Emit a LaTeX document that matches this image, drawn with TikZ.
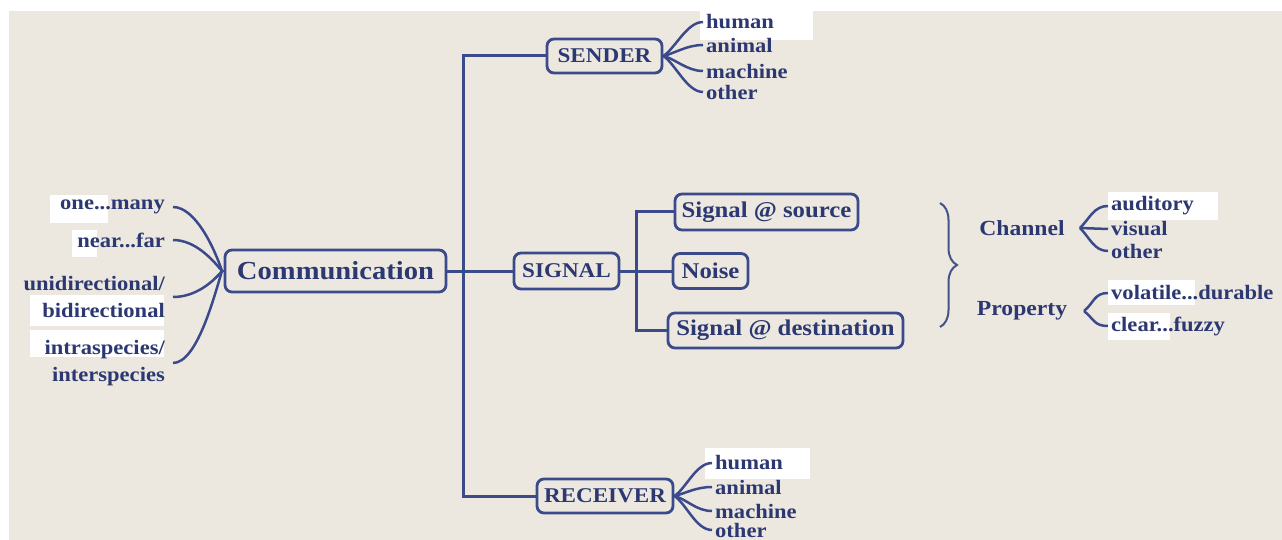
\documentclass[tikz,border=0pt]{standalone}
\usepackage{fontspec}
\setmainfont{Liberation Serif}[FakeStretch=1.1]
\usetikzlibrary{decorations.pathreplacing}
\definecolor{paper}{HTML}{ECE8E0}
\definecolor{ink}{HTML}{3A4A8A}
\definecolor{txt}{HTML}{2C3872}

\begin{document}
\begin{tikzpicture}[x=1pt,y=-1pt,
  box/.style={draw=ink, line width=2.8pt, rounded corners=7pt, fill=paper,
    text=txt, inner sep=0pt, font=\bfseries\fontsize{22.5}{26}\selectfont},
  capsbox/.style={box, font=\bfseries\fontsize{21}{26}\selectfont},
  leaf/.style={text=txt, inner sep=2pt, font=\bfseries\fontsize{20.5}{27.5}\selectfont},
  rleaf/.style={leaf, anchor=west, inner xsep=3pt},
  lleaf/.style={leaf, anchor=east, align=right, inner xsep=8pt},
  link/.style={draw=ink, line width=3pt},
  fan/.style={draw=ink, line width=2.5pt},
  patch/.style={fill=white}
]
% page and paper
\useasboundingbox (0,0) rectangle (1282,540);
\fill[white] (0,0) rectangle (1282,540);
\fill[paper] (9,11) rectangle (1282,540);

% white highlight patches behind some labels
\fill[patch] (700,11) rectangle (813,40);
\fill[patch] (705,448) rectangle (810,479);
\fill[patch] (50,195) rectangle (108,223);
\fill[patch] (72,230) rectangle (97,257);
\fill[patch] (30,295) rectangle (164,326);
\fill[patch] (30,330) rectangle (164,357);
\fill[patch] (1108,192) rectangle (1218,220);
\fill[patch] (1108,280) rectangle (1195,305);
\fill[patch] (1108,313) rectangle (1170,340);

% main boxes
\node[box, minimum width=221, minimum height=42,
  font=\bfseries\fontsize{26}{30}\selectfont] (comm) at (335.5,271) {Communication};
\node[capsbox, minimum width=115, minimum height=34] (sender) at (604.5,56) {SENDER};
\node[capsbox, minimum width=105, minimum height=36] (signal) at (566.5,271) {SIGNAL};
\node[capsbox, minimum width=136, minimum height=34] (receiver) at (605,496) {RECEIVER};
\node[box, minimum width=183, minimum height=36] (src) at (766.5,212) {Signal @ source};
\node[box, minimum width=75, minimum height=35] (noise) at (710.5,271) {Noise};
\node[box, minimum width=235, minimum height=35] (dest) at (785.5,330.5) {Signal @ destination};

% tree connectors
\coordinate (hub) at (463,271);
\coordinate (shub) at (636,271);
\draw[link] (comm.east) -- (hub) -- (signal.west);
\draw[link] (sender.west) -| (hub) |- (receiver.west);
\draw[link] (signal.east) -- (shub) -- (noise.west);
\draw[link] (src.west) -| (shub) |- (dest.west);

% sender kinds
\node[rleaf] (s1) at (703,22) {human};
\node[rleaf] (s2) at (703,45) {animal};
\node[rleaf] (s3) at (703,71) {machine};
\node[rleaf] (s4) at (703,92) {other};
\draw[fan] (sender.east) .. controls +(12,-8) and +(-16,0) .. (s1.west);
\draw[fan] (sender.east) .. controls +(12,-3) and +(-16,0) .. (s2.west);
\draw[fan] (sender.east) .. controls +(12,3) and +(-16,0) .. (s3.west);
\draw[fan] (sender.east) .. controls +(12,8) and +(-16,0) .. (s4.west);

% receiver kinds
\node[rleaf] (r1) at (712,463) {human};
\node[rleaf] (r2) at (712,487) {animal};
\node[rleaf] (r3) at (712,511) {machine};
\node[rleaf] (r4) at (712,530) {other};
\draw[fan] (receiver.east) .. controls +(12,-8) and +(-16,0) .. (r1.west);
\draw[fan] (receiver.east) .. controls +(12,-3) and +(-16,0) .. (r2.west);
\draw[fan] (receiver.east) .. controls +(12,3) and +(-16,0) .. (r3.west);
\draw[fan] (receiver.east) .. controls +(12,8) and +(-16,0) .. (r4.west);

% dimensions of communication
\coordinate (apex) at (222,271);
\node[lleaf] (d1) at (173,207) {one...many};
\node[lleaf] (d2) at (173,240) {near...far};
\node[lleaf] (d3) at (173,297) {unidirectional/\\bidirectional};
\node[lleaf] (d4) at (173,363) {intraspecies/\\interspecies};
\draw[fan] (d1.east) .. controls +(22,0) and +(-8,-24) .. (apex);
\draw[fan] (d2.east) .. controls +(22,0) and +(-10,-12) .. (apex);
\draw[fan] (d3.east) .. controls +(22,0) and +(-10,12) .. (apex);
\draw[fan] (d4.east) .. controls +(24,0) and +(-8,26) .. (apex);
\draw[fan] (apex) -- (comm.west);

% signal characteristics
\coordinate (bt) at (940,203);
\coordinate (bb) at (940,327);
\draw[draw=ink!85!gray, line width=2pt, decorate,
  decoration={brace, amplitude=17pt}] (bt) -- (bb);

\node[leaf, font=\bfseries\fontsize{21.5}{26}\selectfont] (chan) at (1022,228) {Channel};
\node[leaf, font=\bfseries\fontsize{21.5}{26}\selectfont] (prop) at (1022,311) {Property};
\coordinate (ca) at (1080,228);
\coordinate (pa) at (1084,311);
\node[rleaf] (c1) at (1108,206) {auditory};
\node[rleaf] (c2) at (1108,229) {visual};
\node[rleaf] (c3) at (1108,251) {other};
\node[rleaf] (p1) at (1108,293) {volatile...durable};
\node[rleaf] (p2) at (1108,326) {clear...fuzzy};
\draw[fan] (ca) .. controls +(10,-10) and +(-14,0) .. (c1.west);
\draw[fan] (ca) -- (c2.west);
\draw[fan] (ca) .. controls +(10,10) and +(-14,0) .. (c3.west);
\draw[fan] (pa) .. controls +(10,-8) and +(-14,0) .. (p1.west);
\draw[fan] (pa) .. controls +(10,8) and +(-14,0) .. (p2.west);
\end{tikzpicture}
\end{document}
